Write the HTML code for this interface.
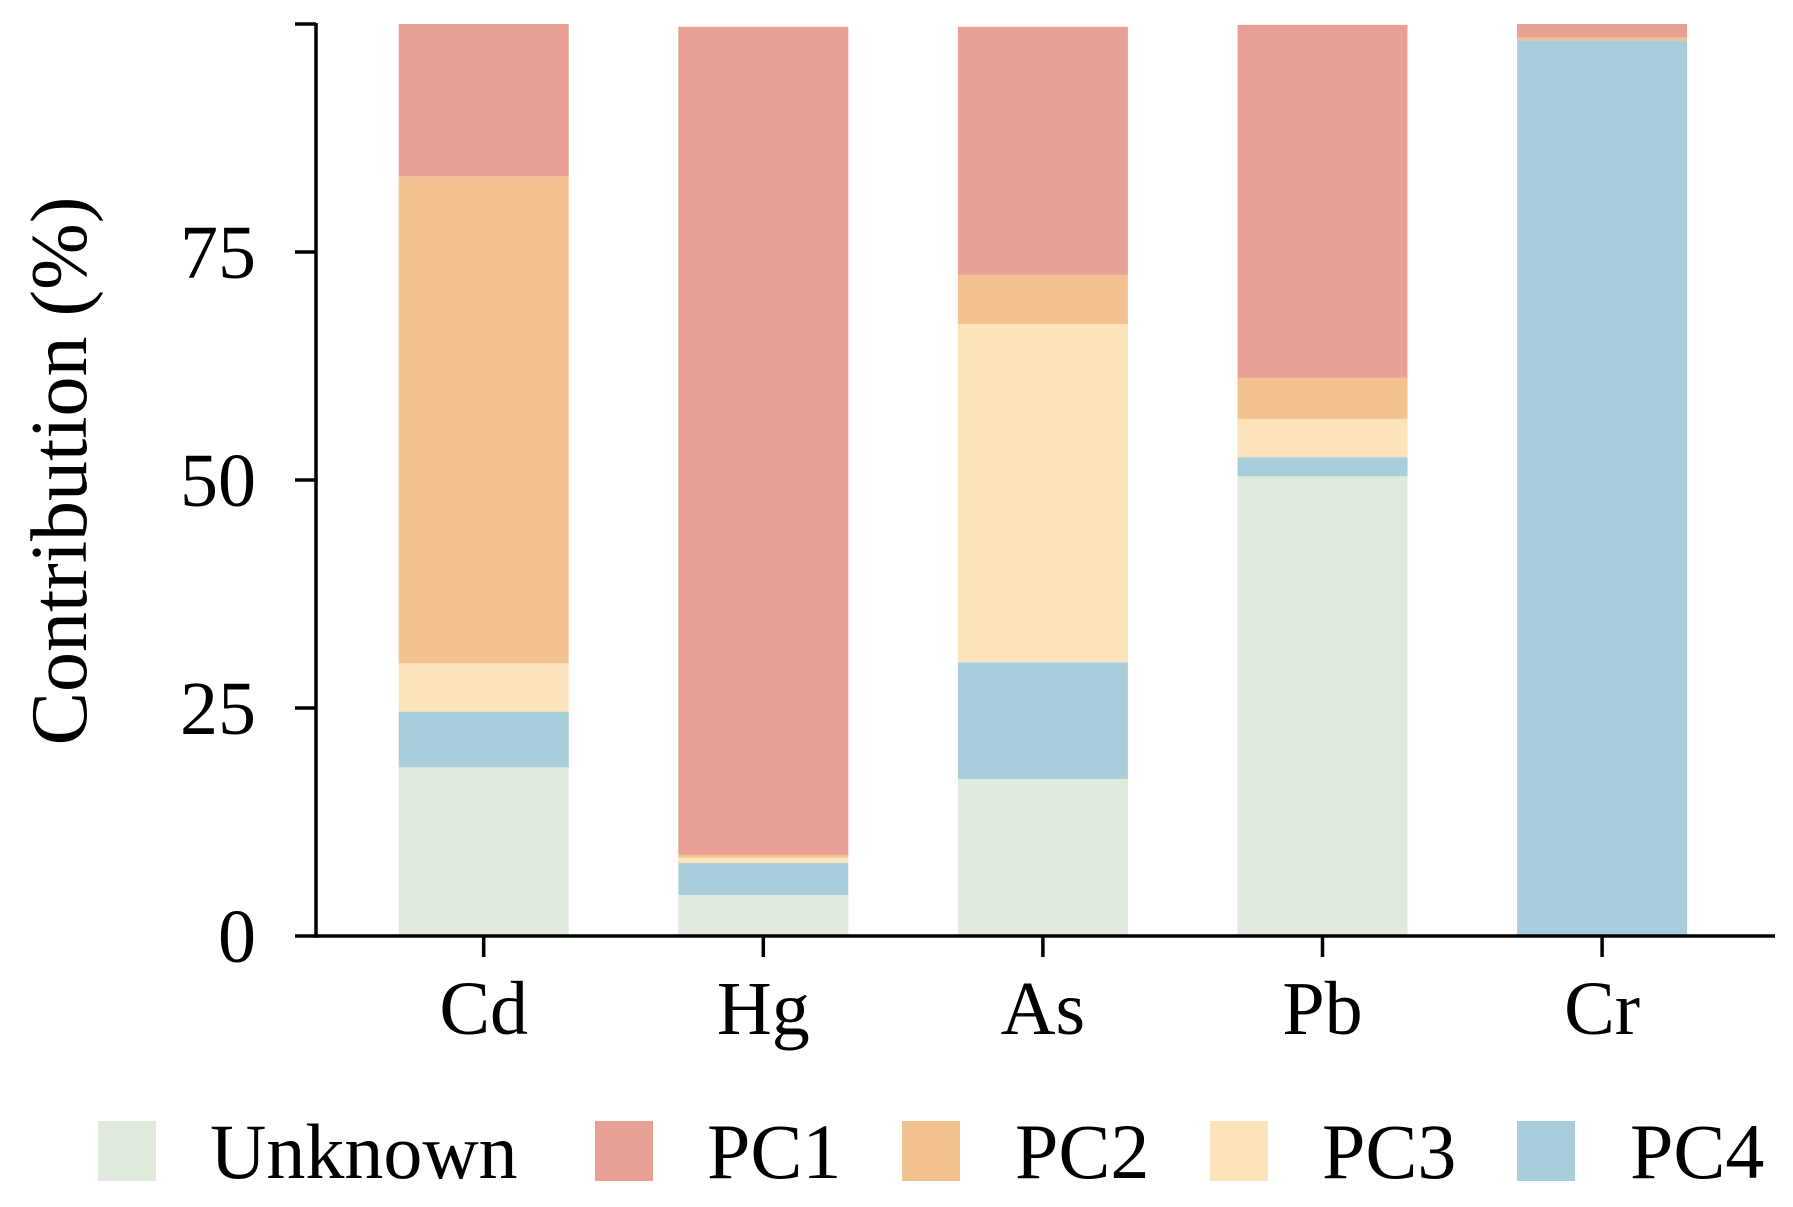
<!DOCTYPE html>
<html><head><meta charset="utf-8"><style>
html,body{margin:0;padding:0;background:#fff;}
svg{display:block;font-family:"Liberation Serif",serif;}
</style></head><body>
<svg id="chart" width="1793" height="1207" viewBox="0 0 1793 1207"></svg>
<script>
const categories = ["Cd","Hg","As","Pb","Cr"];
const seriesNames = ["Unknown","PC4","PC3","PC2","PC1"];
const unknownVals = [18.5, 4.5, 17.2, 50.4, 0];
const pc4Vals = [6.1, 3.5, 12.8, 2.1, 98.2];
const pc3Vals = [5.3, 0.6, 37.1, 4.2, 0];
const pc2Vals = [53.4, 0.3, 5.4, 4.5, 0.3];
const pc1Vals = [16.7, 90.8, 27.2, 38.7, 1.5];
const yTicks = [0, 25, 50, 75];
const legendOrder = ["Unknown","PC1","PC2","PC3","PC4"];

const colors = {Unknown:"#dfe9dc",PC1:"#e8a095",PC2:"#f4c190",PC3:"#fbe3bb",PC4:"#a8cedb"};
const seriesData = {Unknown:unknownVals,PC4:pc4Vals,PC3:pc3Vals,PC2:pc2Vals,PC1:pc1Vals};
const NS="http://www.w3.org/2000/svg";
const svg=document.getElementById('chart');
const x0=316, y0=936, yTop=23, pxPer=(936-24)/100;
const yScale=v=>y0-v*pxPer;
const xCenter=i=>483.7+i*279.6;
const barW=170;
function mk(tag,attrs,parent){const e=document.createElementNS(NS,tag);for(const k in attrs)e.setAttribute(k,attrs[k]);(parent||svg).appendChild(e);return e;}

const bars=mk('g',{});


categories.forEach((c,i)=>{
  let cum=0;
  seriesNames.forEach(s=>{
    const v=seriesData[s][i];
    if(v>0){
      const r=mk('rect',{x:xCenter(i)-barW/2,y:yScale(cum+v),width:barW,height:yScale(cum)-yScale(cum+v),fill:colors[s]},bars);
      
      
    }
    cum+=v;
  });
});

const ya=mk('line',{x1:x0,y1:yTop,x2:x0,y2:y0+1.75,stroke:'#000','stroke-width':3.5});


const xa=mk('line',{x1:x0-1.75,y1:y0,x2:1775,y2:y0,stroke:'#000','stroke-width':3.5});


yTicks.concat([100]).forEach(t=>{
  const l=mk('line',{x1:x0-21,y1:yScale(t),x2:x0,y2:yScale(t),stroke:'#000','stroke-width':3.5});
  
  
});
yTicks.forEach(t=>{
  const tx=mk('text',{x:x0-60,y:yScale(t)+26,'text-anchor':'end','font-size':76,transform:''});
  tx.textContent=t;
  
  
});
categories.forEach((c,i)=>{
  const l=mk('line',{x1:xCenter(i),y1:y0,x2:xCenter(i),y2:y0+21,stroke:'#000','stroke-width':3.5});
  
  
  const tx=mk('text',{x:xCenter(i),y:1034,'text-anchor':'middle','font-size':76});
  tx.textContent=c;
  
  
});
const yt=mk('text',{x:0,y:0,transform:'translate(86,471) rotate(-90)','text-anchor':'middle','font-size':80});
yt.textContent='Contribution (%)';



const legSq=[98,595,902,1210,1517];
const legTx=[210,707,1015,1322,1630];
legendOrder.forEach((s,i)=>{
  const g=mk('g',{});
  
  
  mk('rect',{x:legSq[i],y:1121,width:58,height:60,fill:colors[s]},g);
  const tx=mk('text',{x:legTx[i],y:1178,'font-size':78},g);
  tx.textContent=s;
});
</script>
</body></html>
